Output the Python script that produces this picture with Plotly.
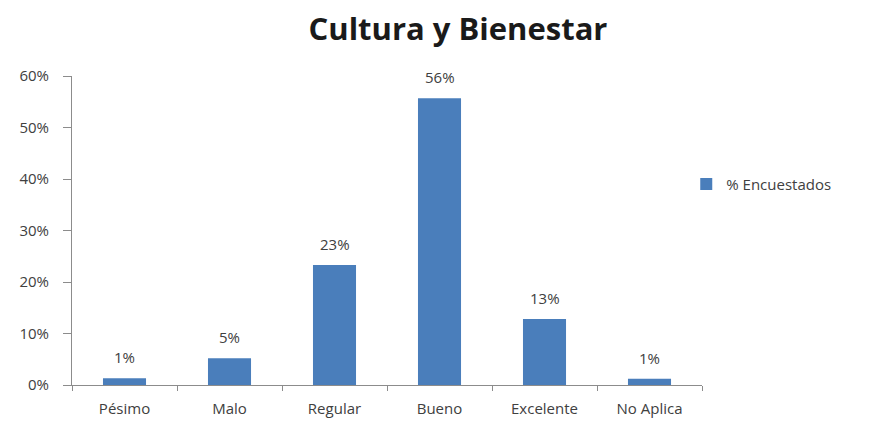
import plotly.graph_objects as go

# Survey results: "Cultura y Bienestar"
categorias = ["Pésimo", "Malo", "Regular", "Bueno", "Excelente", "No Aplica"]
encuestados = [0.013, 0.052, 0.233, 0.557, 0.128, 0.012]
ticks_y = [0, 0.1, 0.2, 0.3, 0.4, 0.5, 0.6]

azul = "#4A7EBB"
gris_texto = "#404040"
gris_eje = "#8C8C8C"
fuente = "Open Sans"

fig = go.Figure()
fig.add_trace(go.Bar(
    x=categorias,
    y=encuestados,
    name="% Encuestados",
    marker=dict(color=azul, line=dict(width=0)),
    width=0.41,
))

# value labels above each bar
for cat, val in zip(categorias, encuestados):
    fig.add_annotation(
        x=cat, y=val, text=f"{val:.0%}",
        showarrow=False, yanchor="bottom", yshift=9,
        font=dict(family=fuente, size=15, color=gris_texto),
    )

fig.update_layout(
    width=870,
    height=425,
    paper_bgcolor="white",
    plot_bgcolor="white",
    margin=dict(l=72, r=168, t=76, b=40),
    title=dict(
        text="<b>Cultura y Bienestar</b>",
        x=458 / 870,
        xanchor="center",
        y=1 - 29 / 425,
        yanchor="middle",
        font=dict(family=fuente, size=31, color="#1a1a1a"),
    ),
    showlegend=True,
    legend=dict(
        x=0.975,
        xanchor="left",
        y=0.65,
        yanchor="middle",
        font=dict(family=fuente, size=15, color=gris_texto),
        itemwidth=30,
        bgcolor="rgba(0,0,0,0)",
    ),
    xaxis=dict(
        automargin=False,
        showline=True,
        linecolor=gris_eje,
        linewidth=1,
        ticks="outside",
        tickson="boundaries",
        ticklen=5,
        tickcolor=gris_eje,
        ticklabelstandoff=10,
        tickfont=dict(family=fuente, size=15, color=gris_texto),
        showgrid=False,
    ),
    yaxis=dict(
        automargin=False,
        range=[0, 0.6],
        tickvals=ticks_y,
        tickformat=".0%",
        showline=True,
        linecolor=gris_eje,
        linewidth=1,
        ticks="outside",
        ticklen=8,
        tickcolor=gris_eje,
        ticklabelstandoff=11,
        tickfont=dict(family=fuente, size=15, color=gris_texto),
        showgrid=False,
        zeroline=False,
    ),
)

fig.write_html("out.html")
